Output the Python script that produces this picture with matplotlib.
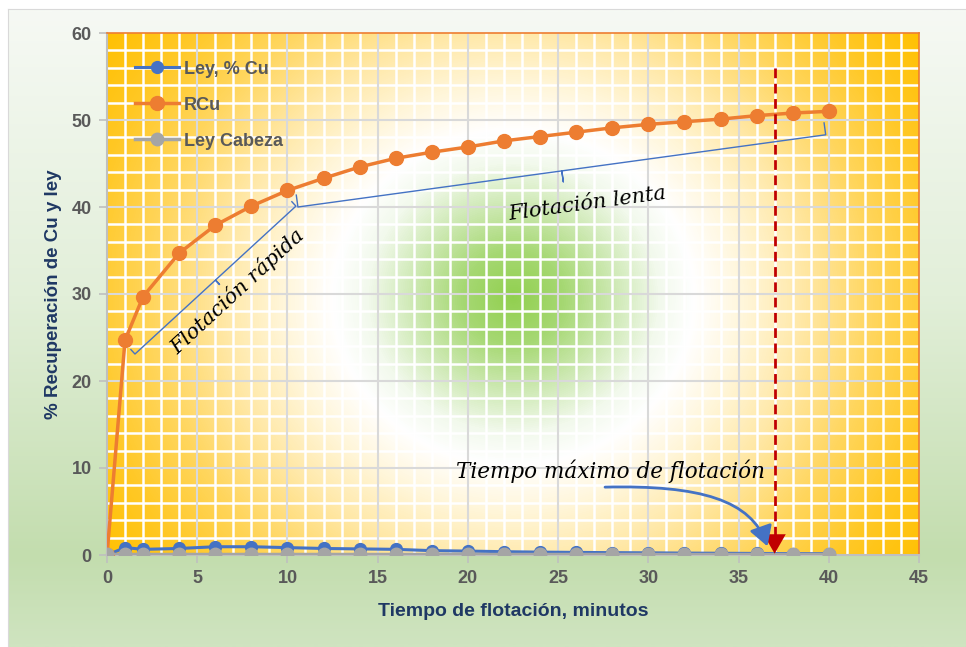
import matplotlib
matplotlib.use("Agg")
import matplotlib.pyplot as plt
import numpy as np
from matplotlib.colors import LinearSegmentedColormap
from matplotlib.patches import FancyArrowPatch
from matplotlib.path import Path

plt.rcParams['font.family'] = ['Liberation Sans', 'DejaVu Sans']

# datos
tiempo = [0, 1, 2, 4, 6, 8, 10, 12, 14, 16, 18, 20, 22, 24, 26, 28, 30, 32, 34, 36, 38, 40]
rcu = [0, 24.7, 29.7, 34.7, 37.9, 40.1, 41.9, 43.3, 44.6, 45.6, 46.3, 46.9, 47.6, 48.1,
       48.6, 49.1, 49.5, 49.8, 50.1, 50.5, 50.8, 51.0]
ley_cu = [0, 0.85, 0.65, 0.75, 0.95, 0.95, 0.85, 0.75, 0.7, 0.65, 0.5, 0.45, 0.38, 0.33,
          0.3, 0.27, 0.25, 0.22, 0.2, 0.18, 0.16, 0.15]
ley_cabeza = [0.15] * len(tiempo)
t_max = 37

AZUL = "#4472C4"
NARANJA = "#ED7D31"
GRIS = "#A5A5A5"
TXT = "#595959"
NAVY = "#1F3864"

W, H = 966, 647
fig = plt.figure(figsize=(W / 100, H / 100), dpi=100)
fig.patch.set_facecolor("white")

# fondo del area del grafico (degradado vertical verde)
bg = fig.add_axes([8 / W, 0, 1 - 8 / W, 1 - 9 / H], zorder=-10)
cm_bg = LinearSegmentedColormap.from_list(
    "bg", [(0, "#F6F9F4"), (0.45, "#E2EFD9"), (0.86, "#C3DDAE"), (1, "#CFE4C0")])
bg.imshow(np.linspace(0, 1, 300).reshape(-1, 1), cmap=cm_bg, aspect="auto",
          extent=(0, 1, 0, 1), origin="upper")
bg.set_xlim(0, 1)
bg.set_ylim(0, 1)
bg.set_xticks([])
bg.set_yticks([])
for s in ["right", "bottom"]:
    bg.spines[s].set_visible(False)
for s in ["left", "top"]:
    bg.spines[s].set_color("#D9D9D9")

ax = fig.add_axes([107 / W, 1 - 555 / H, 812 / W, 522 / H])

# degradado radial del area de trazado
ny, nx = 522, 812
yy, xx = np.mgrid[0:ny, 0:nx]
r = np.hypot(xx - 406, (yy - 264) * 1.08)
stops = [(0, "#92D050"), (50, "#A6D873"), (105, "#D2EBBA"), (145, "#F2F9EC"),
         (180, "#FFFFFF"), (230, "#FFF6DA"), (290, "#FFE8A6"), (360, "#FFD65E"),
         (430, "#FFC825"), (500, "#FFC000")]
cm_plot = LinearSegmentedColormap.from_list("rad", [(v / 500, c) for v, c in stops])
ax.imshow(np.clip(r / 500, 0, 1), cmap=cm_plot, vmin=0, vmax=1, aspect="auto",
          extent=(0, 45, 0, 60), origin="upper", zorder=0)

ax.set_xlim(0, 45)
ax.set_ylim(0, 60)
ax.set_xticks(np.arange(0, 46, 5))
ax.set_yticks(np.arange(0, 61, 10))
ax.set_xticks(np.arange(0, 46, 1), minor=True)
ax.set_yticks(np.arange(0, 61, 2), minor=True)
ax.grid(which="minor", color="white", lw=1.8)
ax.set_axisbelow(True)
# lineas principales por encima de las secundarias
for xv in ax.get_xticks()[1:-1]:
    ax.axvline(xv, color="#D9D9D9", lw=1.5, zorder=0.7)
for yv in ax.get_yticks()[1:-1]:
    ax.axhline(yv, color="#D9D9D9", lw=1.5, zorder=0.7)
ax.tick_params(which="minor", length=0)
ax.tick_params(which="major", length=6, color="#BFBFBF", width=1.2, labelcolor=TXT,
               labelsize=13, pad=5)
for lab in ax.get_xticklabels() + ax.get_yticklabels():
    lab.set_fontweight("bold")
for s in ["left", "bottom"]:
    ax.spines[s].set_color("#BFBFBF")
    ax.spines[s].set_linewidth(1.5)
for s in ["top", "right"]:
    ax.spines[s].set_color(NARANJA)
    ax.spines[s].set_linewidth(1.2)

ax.plot(tiempo, ley_cu, color=AZUL, lw=2.2, marker="o", ms=8.5, label="Ley, % Cu", zorder=3)
ax.plot(tiempo, rcu, color=NARANJA, lw=2.5, marker="o", ms=10, label="RCu", zorder=3)
ax.plot(tiempo, ley_cabeza, color=GRIS, lw=2.5, marker="o", ms=9, label="Ley Cabeza", zorder=3)

ax.set_xlabel("Tiempo de flotación, minutos", fontsize=14, fontweight="bold", color=NAVY,
              labelpad=11)
ax.set_ylabel("% Recuperación de Cu y ley", fontsize=13.5, fontweight="bold", color=NAVY,
              labelpad=7)

leg = ax.legend(loc="upper left", bbox_to_anchor=(0.035, 0.947), frameon=False,
                borderaxespad=0, borderpad=0, handlelength=2.4, handletextpad=0.3,
                labelspacing=1.05, prop={"weight": "bold", "size": 13})
for t in leg.get_texts():
    t.set_color(TXT)


def llave(p0, p1, gancho, pico):
    # llave azul delgada entre dos puntos, ganchos hacia la curva
    a = ax.transData.transform(p0)
    b = ax.transData.transform(p1)
    d = (b - a) / np.hypot(*(b - a))
    n = np.array([-d[1], d[0]])
    m = (a + b) / 2
    pts = [a + n * gancho, a, m, m - n * pico, m, b, b + n * gancho]
    pts = ax.transData.inverted().transform(pts)
    ax.plot(pts[:, 0], pts[:, 1], color=AZUL, lw=1, zorder=4)


llave((1.55, 23.1), (10.47, 40.1), 6, 6)
llave((10.58, 40.0), (39.83, 48.3), 12, 11)

serif = dict(family=["DejaVu Serif"], style="italic", color="black", zorder=5)
ax.text(7.2, 30.3, "Flotación rápida", fontsize=15, rotation=42.7, rotation_mode="anchor",
        ha="center", va="center", **serif)
ax.text(26.6, 40.4, "Flotación lenta", fontsize=15, rotation=7.7, rotation_mode="anchor",
        ha="center", va="center", **serif)
ax.text(27.9, 9.6, "Tiempo máximo de flotación", fontsize=15.5, ha="center", va="center",
        **serif)

# tiempo maximo de flotacion
ax.plot([t_max, t_max], [56, 1.5], color="#C00000", lw=2, ls=(0, (3.5, 2)), zorder=4)
ax.annotate("", xy=(t_max, 0.15), xytext=(t_max, 1.8),
            arrowprops=dict(arrowstyle="-|>,head_length=0.7,head_width=0.4",
                            color="#C00000", lw=0, shrinkA=0, shrinkB=0,
                            mutation_scale=20), zorder=4)

camino = Path([(27.6, 7.8), (32.9, 8.05), (35.7, 6.3), (36.6, 1.0)],
              [Path.MOVETO, Path.CURVE4, Path.CURVE4, Path.CURVE4])
flecha = FancyArrowPatch(path=camino, arrowstyle="-|>,head_length=0.6,head_width=0.35",
                         mutation_scale=20, color=AZUL, lw=2, zorder=5,
                         transform=ax.transData)
ax.add_patch(flecha)

fig.savefig("out.png", dpi=100)
